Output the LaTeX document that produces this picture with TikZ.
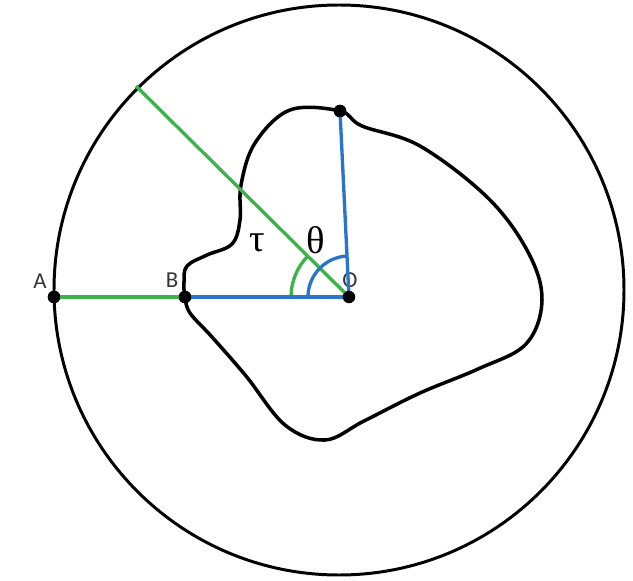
\documentclass[tikz,border=0pt]{standalone}
\usepackage{fontspec}
\newfontfamily\labelfont{Carlito}
\newfontfamily\greekfont{Liberation Serif}
\definecolor{linegreen}{RGB}{59,178,74}
\definecolor{lineblue}{RGB}{42,117,201}
\begin{document}
\begin{tikzpicture}[x=0.02cm, y=-0.02cm,
  dot/.style={circle, fill=black, inner sep=0pt, minimum size=0.25cm},
  ptlabel/.style={font=\labelfont\fontsize{13}{13}\selectfont, text=black!80},
  anglabel/.style={font=\greekfont\fontsize{22}{22}\selectfont},
  greenline/.style={draw=linegreen, line width=1.9pt},
  blueline/.style={draw=lineblue, line width=1.9pt}]
\useasboundingbox (0,0) rectangle (633,581);

% Outer circle and the closed curve
\draw[line width=1.7pt] (339,290) circle [radius=285];
\draw[line width=2pt] plot[smooth cycle, tension=0.6] coordinates {
  (184,282) (187,266) (207,255) (232,244) (240,220) (241,185)
  (255,143) (290,110) (340,111) (362,126) (420,146) (488,198)
  (528,252) (542,300) (526,344) (478,369) (420,393) (364,421)
  (325,440) (285,425) (246,376) (212,337) (190,313) (185,297)};

% Points and labels
\node[dot] (A) at (54,297) {};
\node[dot] (B) at (185,297) {};
\coordinate (O) at (349,297);
\node[dot] (P) at (340,111) {};
\coordinate (E) at (136,86);
\node[ptlabel] (labA) at (40,281) {A};
\node[ptlabel] (labB) at (172,280) {B};
\node[ptlabel] (labO) at (350,280) {O};
\node[anglabel] (tau) at (257,243) {τ};
\node[anglabel] (theta) at (316,240) {θ};

% Rays and angle marks
\draw[greenline] (A.center) -- (B.center);
\draw[greenline] (O) -- (E);
\draw[greenline] (O) ++(-58,0) arc[start angle=180, end angle=225, radius=58];
\draw[blueline] (B.center) -- (O);
\draw[blueline] (O) -- (P.center);
\draw[blueline] (O) ++(-41,0) arc[start angle=180, end angle=267, radius=41];
\node[dot] (Odot) at (O) {};
\node[dot] at (A) {};
\node[dot] at (B) {};
\node[dot] at (P) {};
\end{tikzpicture}
\end{document}
